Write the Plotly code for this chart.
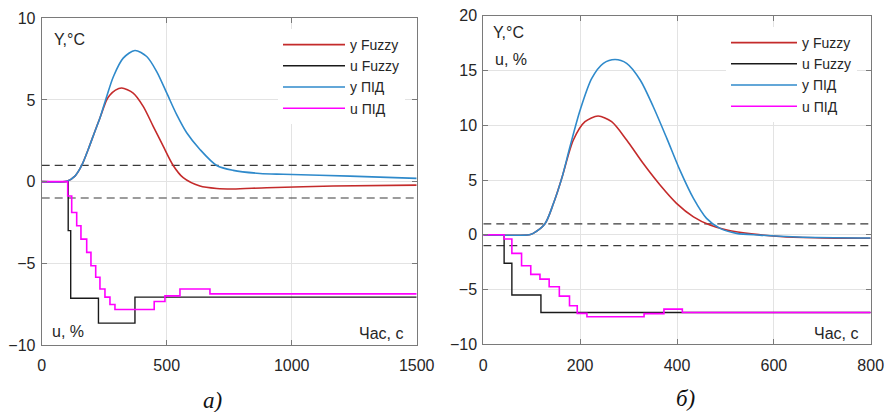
import plotly.graph_objects as go

# ---------------- data: panel а) ----------------
a_yF_t = [0, 100, 133, 160, 186, 213, 233, 260, 273, 295, 320, 366, 406, 446, 486, 526, 566, 633, 700, 766, 900, 1166, 1500]
a_yF_v = [0, 0.02, 0.34, 0.99, 1.97, 3.09, 3.9, 5.0, 5.3, 5.6, 5.73, 5.42, 4.61, 3.39, 2.17, 0.99, 0.24, -0.27, -0.42, -0.45, -0.37, -0.27, -0.21]

a_yP_t = [0, 100, 133, 160, 186, 213, 233, 260, 287, 326, 373, 420, 460, 500, 540, 580, 633, 700, 766, 873, 966, 1233, 1500]
a_yP_v = [0, 0.02, 0.34, 0.99, 1.97, 3.09, 3.9, 5.22, 6.44, 7.56, 8.03, 7.66, 6.74, 5.43, 4.1, 2.99, 1.97, 0.99, 0.69, 0.5, 0.45, 0.34, 0.2]

a_uF_t = [0, 106, 116, 227, 373, 1500]
a_uF_v = [0, -3.0, -7.14, -8.66, -7.07, -7.07]

a_uP_t = [0, 104, 120, 140, 157, 180, 197, 216, 233, 253, 273, 293, 450, 493, 553, 673, 1500]
a_uP_v = [0, -0.88, -1.89, -2.7, -3.52, -4.33, -5.15, -5.85, -6.57, -7.07, -7.52, -7.83, -7.34, -6.99, -6.57, -6.87, -6.87]

a_xrange = [0, 1500]
a_yrange = [-10, 10]
a_xticks = [0, 500, 1000, 1500]
a_yticks = [-10, -5, 0, 5, 10]

# ---------------- data: panel б) ----------------
b_yF_t = [0, 95, 103, 127, 145, 162, 186, 210, 237, 265, 296, 330, 365, 399, 434, 468, 503, 558, 620, 700, 800]
b_yF_v = [0, 0, 0.13, 0.98, 2.87, 5.15, 8.65, 10.32, 10.84, 10.32, 8.65, 6.52, 4.54, 2.87, 1.64, 0.89, 0.43, 0.06, -0.18, -0.28, -0.32]

b_yP_t = [0, 95, 103, 127, 145, 162, 179, 200, 224, 248, 272, 296, 324, 351, 379, 406, 434, 461, 489, 523, 571, 650, 800]
b_yP_v = [0, 0, 0.13, 0.98, 2.87, 5.15, 8.04, 11.39, 14.28, 15.65, 16.0, 15.65, 14.13, 11.69, 8.8, 5.9, 3.32, 1.5, 0.58, 0.13, -0.03, -0.2, -0.3]

b_uF_t = [0, 43, 59, 119, 800]
b_uF_v = [0, -2.6, -5.5, -7.09, -7.09]

b_uP_t = [0, 43, 59, 79, 98, 117, 136, 157, 178, 194, 214, 332, 373, 411, 800]
b_uP_v = [0, -0.39, -1.7, -2.83, -3.62, -4.05, -4.75, -5.6, -6.48, -7.18, -7.49, -7.2, -6.79, -7.09, -7.09]

b_xrange = [0, 800]
b_yrange = [-10, 20]
b_xticks = [0, 200, 400, 600, 800]
b_yticks = [-10, -5, 0, 5, 10, 15, 20]

band_levels = [1, -1]
series_names = ["y Fuzzy", "u Fuzzy", "y ПІД", "u ПІД"]

# ---------------- styles ----------------
C_RED = "#c42b2b"
C_BLACK = "#1a1a1a"
C_BLUE = "#2f8acb"
C_MAG = "#ff00ff"
C_DASH = "#3a3a3a"
FONT = "Liberation Sans, Arial, sans-serif"
TXT = "#262626"

fig = go.Figure()

def add_panel(xa, ya, leg, xr, yF, uF, yP, uP):
    for lvl in band_levels:
        fig.add_trace(go.Scatter(x=xr, y=[lvl, lvl], mode="lines", xaxis=xa, yaxis=ya,
                                 line=dict(color=C_DASH, width=1.2, dash="8px,5px"),
                                 showlegend=False, hoverinfo="skip"))
    specs = [(yF, C_RED, "spline", 1.6), (uF, C_BLACK, "hv", 1.4),
             (yP, C_BLUE, "spline", 1.6), (uP, C_MAG, "hv", 1.6)]
    for name, (d, col, shp, w) in zip(series_names, specs):
        line = dict(color=col, width=w, shape=shp)
        if shp == "spline":
            line["smoothing"] = 0.8
        fig.add_trace(go.Scatter(x=d[0], y=d[1], mode="lines", name=name, xaxis=xa, yaxis=ya,
                                 line=line, legend=leg))

add_panel("x", "y", "legend", a_xrange, (a_yF_t, a_yF_v), (a_uF_t, a_uF_v), (a_yP_t, a_yP_v), (a_uP_t, a_uP_v))
add_panel("x2", "y2", "legend2", b_xrange, (b_yF_t, b_yF_v), (b_uF_t, b_uF_v), (b_yP_t, b_yP_v), (b_uP_t, b_uP_v))

W, H = 888, 412
def px_x(p): return p / W
def px_y(p): return 1 - p / H

axis_common = dict(showline=True, linecolor="#7a7a7a", linewidth=1, mirror="ticks",
                   ticks="inside", ticklen=5, tickcolor="#7a7a7a", showgrid=True,
                   gridcolor="#e3e3e3", gridwidth=1, zeroline=False, automargin=False,
                   tickfont=dict(family=FONT, size=16, color=TXT))

fig.update_layout(
    width=W, height=H, autosize=False,
    margin=dict(l=0, r=0, t=0, b=0, pad=0),
    paper_bgcolor="white", plot_bgcolor="white",
    xaxis=dict(domain=[px_x(41.7), px_x(416.7)], range=a_xrange, tickvals=a_xticks,
               anchor="y", ticklabelstandoff=6, **axis_common),
    yaxis=dict(domain=[px_y(345), px_y(18.3)], range=a_yrange, tickvals=a_yticks,
               anchor="x", ticklabelstandoff=2, **axis_common),
    xaxis2=dict(domain=[px_x(483.3), px_x(870.7)], range=b_xrange, tickvals=b_xticks,
                anchor="y2", ticklabelstandoff=6, **axis_common),
    yaxis2=dict(domain=[px_y(344.3), px_y(15.7)], range=b_yrange, tickvals=b_yticks,
                anchor="x2", ticklabelstandoff=2, **axis_common),
    legend=dict(x=px_x(278), y=px_y(29), xanchor="left", yanchor="top",
                bgcolor="white", borderwidth=0, itemwidth=62,
                font=dict(family=FONT, size=14, color=TXT)),
    legend2=dict(x=px_x(726), y=px_y(27), xanchor="left", yanchor="top",
                 bgcolor="white", borderwidth=0, itemwidth=66,
                 font=dict(family=FONT, size=14, color=TXT)),
    showlegend=True,
)

ann_font = dict(family=FONT, size=16, color=TXT)
labels = [
    ("Y,°C", 52, 40, "left"), ("u, %", 50, 331, "left"), ("Час, с", 405, 333, "right"),
    ("Y,°C", 491, 33, "left"), ("u, %", 493, 59, "left"), ("Час, с", 860, 333, "right"),
]
for text, x, y, anc in labels:
    fig.add_annotation(text=text, x=px_x(x), y=px_y(y), xref="paper", yref="paper",
                       xanchor=anc, yanchor="middle", showarrow=False, font=ann_font)

for text, x, y in [("<i>а)</i>", 212, 400), ("<i>б)</i>", 685, 398)]:
    fig.add_annotation(text=text, x=px_x(x), y=px_y(y), xref="paper", yref="paper",
                       xanchor="center", yanchor="middle", showarrow=False,
                       font=dict(family="Liberation Serif, Times New Roman, serif", size=23, color="#111111"))

fig.write_html("out.html", config={"displayModeBar": False},
               post_script="document.body.style.margin='0';document.body.style.overflow='hidden';")
